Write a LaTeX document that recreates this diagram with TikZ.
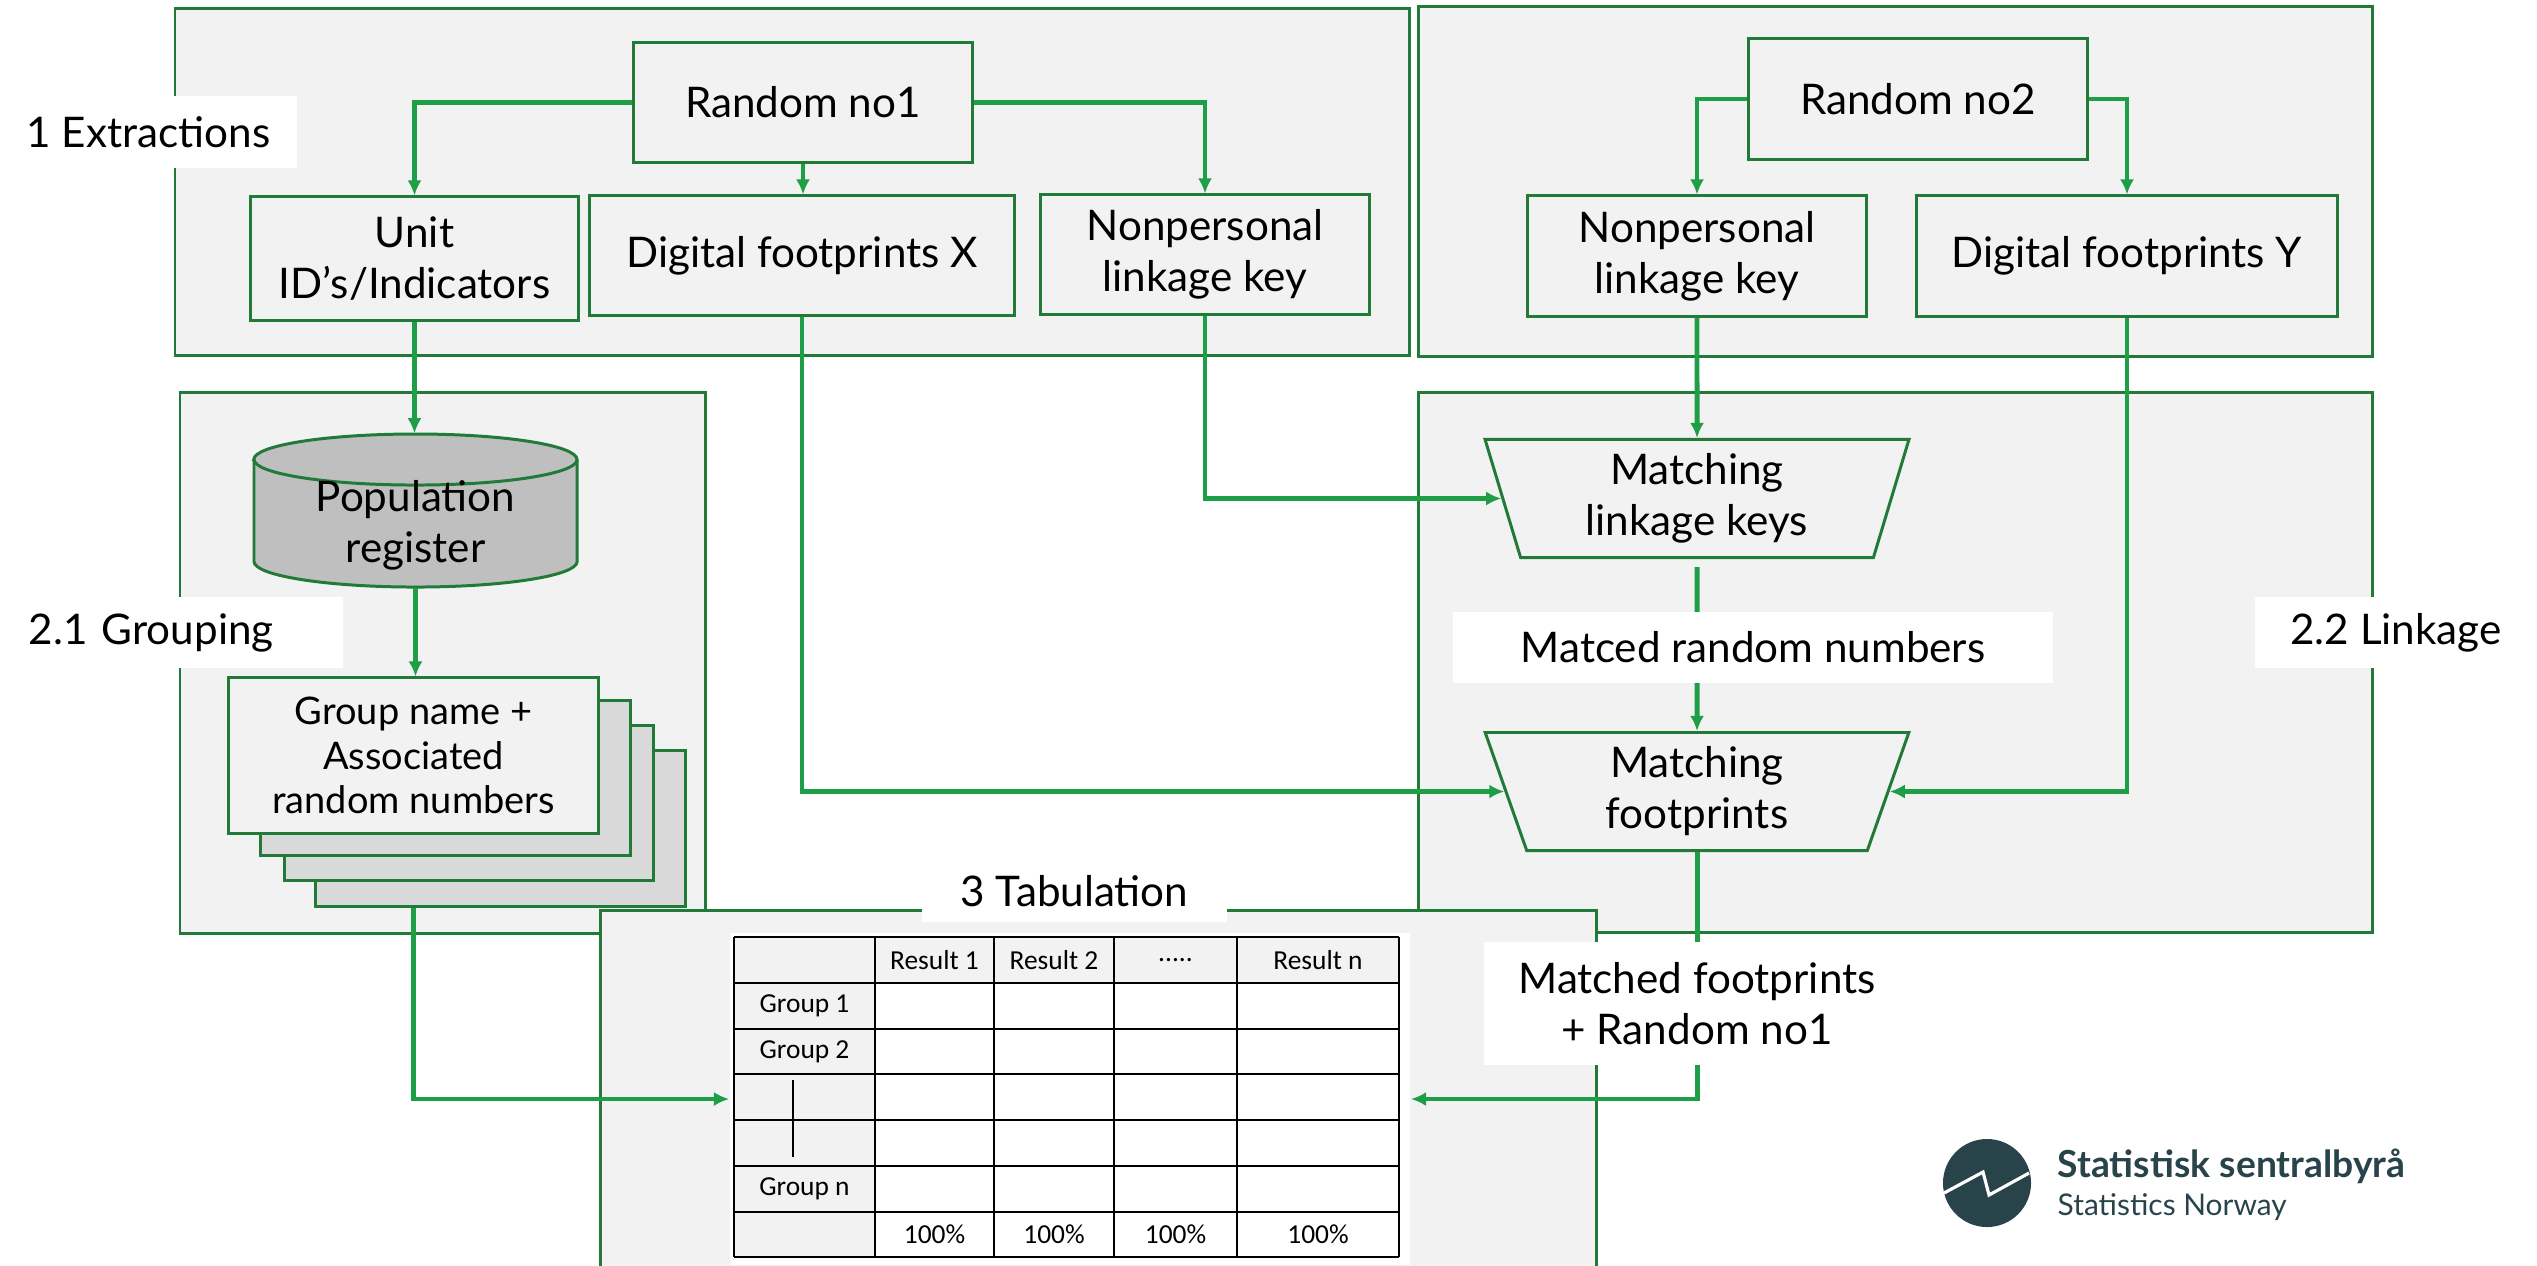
\documentclass[tikz,border=0pt]{standalone}
\usepackage{fontspec}
\setmainfont{Lato}
\newfontfamily\tabfont{Carlito}
\usetikzlibrary{positioning,calc,shapes.geometric,arrows.meta}

\definecolor{boxgreen}{RGB}{33,122,56}
\definecolor{arrowgreen}{RGB}{31,158,72}
\definecolor{panelgray}{RGB}{242,242,242}
\definecolor{dbgray}{RGB}{191,191,191}
\definecolor{sheetgray}{RGB}{217,217,217}
\definecolor{ssbteal}{RGB}{40,67,74}
\newcommand{\mainsize}{\fontsize{12}{14.5}\selectfont}
\newcommand{\grpsize}{\fontsize{10.8}{12.7}\selectfont}
\newcommand{\fivedots}{.....}

\begin{document}
\begin{tikzpicture}[x=0.01cm, y=-0.01cm,
  panel/.style={draw=boxgreen, line width=0.85pt, fill=panelgray},
  box/.style={draw=boxgreen, line width=0.85pt, fill=panelgray, align=center, inner sep=0pt, font=\mainsize},
  sheet/.style={draw=boxgreen, line width=0.85pt, fill=sheetgray, inner sep=0pt, minimum width=3.69cm, minimum height=1.55cm},
  db/.style={draw=boxgreen, line width=0.85pt, fill=dbgray},
  match/.style={trapezium, trapezium left angle=76, trapezium right angle=76, shape border rotate=180, trapezium stretches=true, draw=boxgreen, line width=0.85pt, fill=panelgray, align=center, inner sep=0pt, minimum width=4.26cm, minimum height=1.18cm, font=\mainsize},
  lbl/.style={fill=white, inner sep=0pt, align=center, font=\mainsize},
  arr/.style={draw=arrowgreen, line width=1.4pt, -{Latex[length=4.3pt,width=4pt]}},
  cell/.style={inner sep=0pt, font=\tabfont\fontsize{7.8}{9}\selectfont}]
\useasboundingbox (0,0) rectangle (2537,1265);

% panels
\draw[panel] (175,8) rectangle (1409,355);
\draw[panel] (1418,6) rectangle (2372,356);
\draw[panel] (180,392) rectangle (705,933);
\draw[panel] (1418,392) rectangle (2372,932);

% 1 Extractions
\node[box, minimum width=3.38cm, minimum height=1.19cm] (r1) at (803,102.5) {Random no1};
\node[box, minimum width=3.27cm, minimum height=1.23cm] (unit) at (414.5,258.5) {Unit\\ID’s/Indicators};
\node[box, minimum width=4.24cm, minimum height=1.19cm] (digx) at (802,255.5) {Digital footprints X};
\node[box, minimum width=3.28cm, minimum height=1.19cm] (npla) at (1205,254.5) {Nonpersonal\\linkage key};

\node[box, minimum width=3.38cm, minimum height=1.20cm] (r2) at (1918,99) {Random no2};
\node[box, minimum width=3.38cm, minimum height=1.20cm] (nplb) at (1697,256) {Nonpersonal\\linkage key};
\node[box, minimum width=4.20cm, minimum height=1.20cm] (digy) at (2127,256) {Digital footprints Y};

% 2.1 Grouping
\filldraw[db] (254,459.5) -- (254,561.5) arc[start angle=180, end angle=360, x radius=1.615cm, y radius=0.255cm]
  -- (577,459.5) arc[start angle=0, end angle=180, x radius=1.615cm, y radius=0.255cm] -- cycle;
\draw[db, fill=none] (254,459.5) arc[start angle=180, end angle=360, x radius=1.615cm, y radius=0.255cm];
\node[inner sep=0pt, minimum width=3.23cm, minimum height=1.53cm,
  label={[align=center, font=\mainsize, yshift=-0.15cm]center:Population\\register}] (pop) at (415.5,510.5) {};
\node[sheet] (sh3) at (500.5,828.5) {};
\node[sheet] (sh2) at (469,803) {};
\node[sheet] (sh1) at (445.5,778) {};
\node[box, minimum width=3.69cm, minimum height=1.55cm, font=\grpsize] (grp) at (413.5,755.5) {Group name +\\Associated\\random numbers};

% 2.2 Linkage
\node[match] (keys) at (1697,498.5) {Matching\\linkage keys};
\node[match] (foot) at (1697,791.5) {Matching\\footprints};

% 3 Tabulation
\draw[panel] (600,910) rectangle (1596,1290);

\draw[arr] (r1.west) -| (unit.north);
\draw[arr] (r1.south) -- (r1.south |- digx.north);
\draw[arr] (r1.east) -| (npla.north);
\draw[arr] (r2.west) -| (nplb.north);
\draw[arr] (r2.east) -| (digy.north);
\draw[arr] (unit.south) -- (unit.south |- pop.north);
\draw[arr] (pop.south) -- (pop.south |- grp.north);
\draw[arr] (npla.south) |- (keys.west);
\draw[arr] (nplb.south) -- (keys.north);
\draw[arr] (digx.south) |- (foot.west);
\draw[arr] (digy.south) |- (foot.east);
\draw[arr, shorten <=0.08cm] (keys.south) -- (foot.north);

\node[fill=white, inner sep=0pt, minimum width=6.80cm, minimum height=3.32cm] (tab) at (1070,1099) {};
\draw[arr] (grp.south |- sh3.south) |- (tab.west);
\draw[arr] (foot.south) |- (tab.east);

% table
\fill[panelgray] (734,937) rectangle (1399,983);
\fill[panelgray] (734,983) rectangle (875,1257);
\foreach \x in {734,875,994,1114,1237,1399}
  \draw[line width=0.6pt] (\x,937) -- (\x,1257);
\foreach \y in {937,983,1029,1074,1120,1166,1212,1257}
  \draw[line width=0.6pt] (734,\y) -- (1399,\y);
\foreach \cx/\t [count=\i] in {934.5/Result 1, 1054/Result 2, 1175.5/\fivedots, 1318/Result n}
  \node[cell] (res\i) at (\cx,960) {\t};
\foreach \cy/\t [count=\i] in {1006/Group 1, 1051.5/Group 2, 1189/Group n}
  \node[cell] (gname\i) at (804.5,\cy) {\t};
\foreach \cx [count=\i] in {934.5,1054,1175.5,1318}
  \node[cell] (pct\i) at (\cx,1234.5) {100\%};
\draw[line width=0.6pt] (793,1080) -- (793,1157);

% labels
\node[lbl, minimum width=2.97cm, minimum height=0.72cm] (lext) at (148.5,132) {1 Extractions};
\node[lbl, text width=2.85cm, inner xsep=0.29cm, align=left, minimum height=0.71cm] (lgrp) at (171.5,632.5) {2.1 Grouping};
\node[lbl, minimum width=2.82cm, minimum height=0.71cm] (llink) at (2396,632.5) {2.2 Linkage};
\node[lbl, minimum width=6.00cm, minimum height=0.71cm] (lmrn) at (1753,647.5) {Matced random numbers};
\node[lbl, minimum width=3.05cm, minimum height=0.62cm] (ltab) at (1074.5,891) {3 Tabulation};
\node[lbl, minimum width=4.26cm, minimum height=1.23cm] (lmfr) at (1697,1003.5) {Matched footprints\\+ Random no1};

% logo
\node[circle, fill=ssbteal, minimum size=0.88cm, inner sep=0pt] (logo) at (1987,1183) {};
\draw[white, line width=0.9pt] (1944,1193) -- (1983,1172) -- (1989,1195) -- (2029,1173);
\node[anchor=base west, inner sep=0pt, text=ssbteal, font=\bfseries\fontsize{10.6}{12}\selectfont] (ssbname) at (2057,1177) {Statistisk sentralbyrå};
\node[anchor=base west, inner sep=0pt, text=ssbteal, font=\fontsize{8.5}{10}\selectfont] (ssbeng) at (2057,1215) {Statistics Norway};
\end{tikzpicture}
\end{document}
